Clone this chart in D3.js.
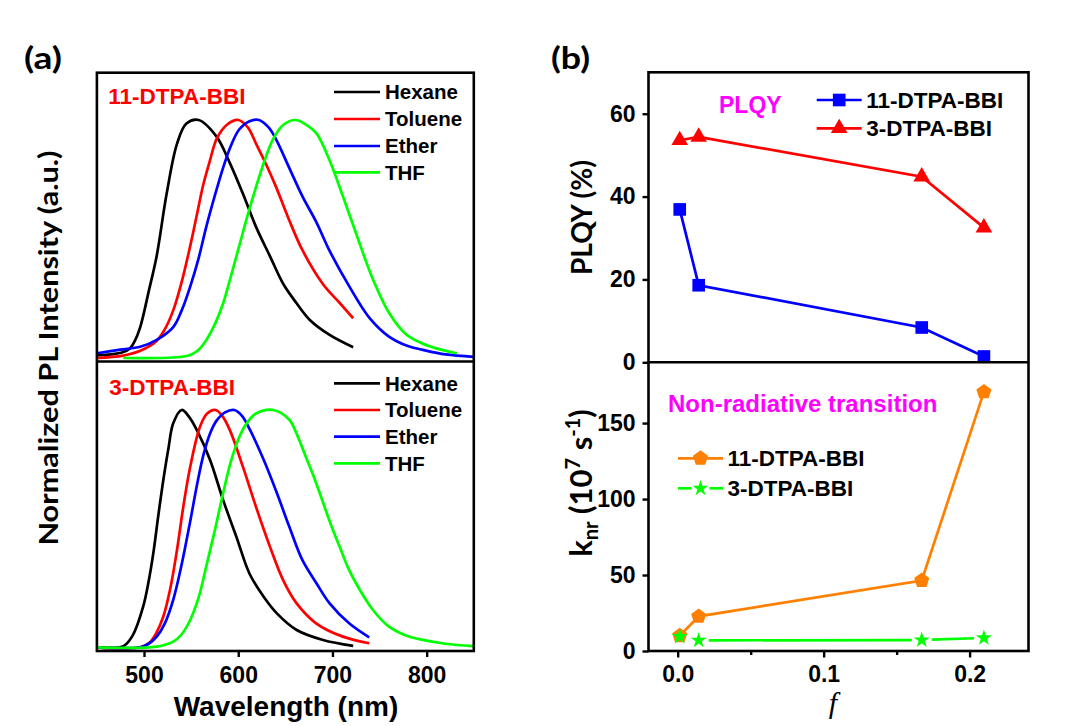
<!DOCTYPE html>
<html><head><meta charset="utf-8">
<script src="https://cdn.jsdelivr.net/npm/d3@7"></script>
<style>body{margin:0;background:#fff}svg{display:block}</style>
</head><body>
<svg id="c" width="1080" height="726"></svg>
<script>
// ---------- DATA: panel (a) top, 11-DTPA-BBI ----------
const solvents = ["Hexane","Toluene","Ether","THF"];
const solventColors = ["#000000","#ff0000","#0000ff","#00ff00"];

const top_hexane_wl = [450,465,478,485,490,496,505,513.5,524,535,545,558,577,591,605,619,634,648,662,676,697,722];
const top_hexane_I  = [0.012,0.015,0.025,0.04,0.07,0.13,0.28,0.43,0.69,0.90,0.985,1.0,0.93,0.82,0.69,0.55,0.425,0.31,0.23,0.16,0.097,0.045];
const top_toluene_wl = [450,478,496,513,522,531,540,549,556,563,570,577,588,600,610,619,630,640,654,668,690,708,722];
const top_toluene_I  = [0.0,0.01,0.03,0.07,0.12,0.2,0.32,0.47,0.6,0.73,0.83,0.92,0.98,1.0,0.97,0.90,0.81,0.72,0.58,0.454,0.31,0.23,0.167];
const top_ether_wl = [450,475,496,513,531,540,549,558,566,575,584,592,601,612,622,632,640,654,668,683,697,718,739,760,780,796,820,850];
const top_ether_I  = [0.02,0.035,0.047,0.075,0.13,0.2,0.3,0.42,0.55,0.68,0.80,0.89,0.96,0.995,1.0,0.97,0.92,0.80,0.68,0.57,0.45,0.30,0.17,0.09,0.05,0.034,0.015,0.005];
const top_thf_wl = [478,531,549,558,566,575,584,592,601,610,619,628,637,648,661,672,683,697,711,725,743,760,778,796,815,832];
const top_thf_I  = [0.0,0.002,0.013,0.035,0.075,0.14,0.23,0.34,0.47,0.6,0.72,0.83,0.92,0.98,1.0,0.98,0.944,0.83,0.68,0.524,0.33,0.19,0.10,0.06,0.035,0.02];

// ---------- DATA: panel (a) bottom, 3-DTPA-BBI ----------
const bot_hexane_wl = [450,478,488,499,505,510,515,520.5,526,531,540,548,556,570,584,598,612,627,641,662,690,722];
const bot_hexane_I  = [0.0,0.005,0.05,0.17,0.28,0.40,0.55,0.705,0.84,0.944,1.0,0.97,0.916,0.79,0.62,0.466,0.31,0.213,0.143,0.073,0.031,0.006];
const bot_toluene_wl = [450,496,506,513,520.5,528,535,542,549,559.5,567,576,583,591,605,619,634,648,662,683,711,739];
const bot_toluene_I  = [0.0,0.0,0.02,0.06,0.13,0.25,0.41,0.6,0.76,0.93,0.985,1.0,0.975,0.916,0.76,0.59,0.42,0.28,0.185,0.10,0.045,0.017];
const bot_ether_wl = [450,496,505,513.5,522,531,540,549,556,563,570,577,586,596,604,612.5,627,641,654,668,683,697,718,739];
const bot_ether_I  = [0.0,0.0,0.015,0.045,0.1,0.2,0.35,0.53,0.68,0.81,0.9,0.955,0.99,1.0,0.975,0.916,0.79,0.65,0.51,0.368,0.27,0.185,0.10,0.042];
const bot_thf_wl = [450,513.5,531,540,549,558,566,575,584,592,601,610,619,637,654,663,672,681,690,699,708,716,725,743,760,778,796,820,850];
const bot_thf_I  = [0.0,0.003,0.024,0.055,0.115,0.21,0.34,0.49,0.65,0.78,0.885,0.95,0.985,1.0,0.96,0.89,0.80,0.71,0.61,0.51,0.42,0.34,0.27,0.157,0.087,0.05,0.031,0.015,0.005];

const wlTicks = [500,600,700,800];

// ---------- DATA: panel (b) ----------
const fValues = [0.0014,0.0144,0.1672,0.2098];
const plqy11 = [36.9,18.6,8.4,1.4];
const plqy3  = [53.6,54.4,44.8,32.5];
const knr11  = [10,22.8,46.4,170.5];
const knr3   = [9.5,7.0,7.2,8.6];
const plqyTicks = [0,20,40,60];
const knrTicks = [0,50,100,150];
const fTicks = [0,0.1,0.2];
const fMinor = [0.05,0.15];

// ---------- DRAW ----------
const svg = d3.select("#c");
const ARIAL = "'Liberation Sans', Arial, sans-serif";
const CAL = "Lato, 'Open Sans', sans-serif";

// Panel (a) geometry
const aL=96.9, aR=473.8, aT=72.7, aM=361.5, aB=651;
const xA = d3.scaleLinear().domain([450,850]).range([aL,aR]);
const yTop = d3.scaleLinear().domain([0,1.2]).range([358,72.4]);
const yBot = d3.scaleLinear().domain([0,1.2]).range([647.3,362.5]);

const topSeries = [[top_hexane_wl,top_hexane_I],[top_toluene_wl,top_toluene_I],[top_ether_wl,top_ether_I],[top_thf_wl,top_thf_I]];
const botSeries = [[bot_hexane_wl,bot_hexane_I],[bot_toluene_wl,bot_toluene_I],[bot_ether_wl,bot_ether_I],[bot_thf_wl,bot_thf_I]];

const gA = svg.append("g");
function drawSpectra(series, yS, clipId, y0, y1){
  gA.append("clipPath").attr("id",clipId).append("rect").attr("x",aL).attr("y",y0).attr("width",aR-aL).attr("height",y1-y0);
  series.forEach((s,i)=>{
    const pts = s[0].map((w,j)=>[w,s[1][j]]);
    const line = d3.line().x(d=>xA(d[0])).y(d=>yS(d[1])).curve(d3.curveCatmullRom.alpha(0.5));
    gA.append("path").attr("d",line(pts)).attr("fill","none")
      .attr("stroke",solventColors[i]).attr("stroke-width",2.7)
      .attr("clip-path",`url(#${clipId})`);
  });
}
drawSpectra(topSeries,yTop,"clipTop",aT,aM);
drawSpectra(botSeries,yBot,"clipBot",aM,aB);

// legends (a)
function legendA(ys){
  solvents.forEach((s,i)=>{
    gA.append("line").attr("x1",334).attr("x2",380).attr("y1",ys[i]).attr("y2",ys[i])
      .attr("stroke",solventColors[i]).attr("stroke-width",2.7);
    gA.append("text").attr("x",385).attr("y",ys[i]).attr("dy","0.36em")
      .attr("font-family",ARIAL).attr("font-weight","bold").attr("font-size",20.5).text(s);
  });
}
legendA([92,119,146,172.3]);
legendA([383.3,410,436.7,463.3]);

gA.append("text").attr("x",108.3).attr("y",104).attr("fill","#ff0000")
  .attr("font-family",ARIAL).attr("font-weight","bold").attr("font-size",22.5).text("11-DTPA-BBI");
gA.append("text").attr("x",109.3).attr("y",394.5).attr("fill","#ff0000")
  .attr("font-family",ARIAL).attr("font-weight","bold").attr("font-size",22.5).text("3-DTPA-BBI");

// frames (a)
gA.append("rect").attr("x",aL).attr("y",aT).attr("width",aR-aL).attr("height",aB-aT)
  .attr("fill","none").attr("stroke","#000").attr("stroke-width",2.6);
gA.append("line").attr("x1",aL).attr("x2",aR).attr("y1",aM).attr("y2",aM).attr("stroke","#000").attr("stroke-width",2.6);

// x axis (a)
const axA = gA.append("g").attr("transform",`translate(0,${aB})`)
  .call(d3.axisBottom(xA).tickValues(wlTicks).tickSize(6).tickPadding(10).tickFormat(d3.format("d")));
axA.select(".domain").remove();
axA.selectAll("line").attr("stroke-width",2.4);
axA.selectAll("text").attr("font-family",ARIAL).attr("font-weight","bold").attr("font-size",23).attr("fill","#000");

gA.append("text").attr("x",286).attr("y",716).attr("text-anchor","middle")
  .attr("font-family",ARIAL).attr("font-weight","bold").attr("font-size",28).text("Wavelength (nm)");
gA.append("text").attr("transform","translate(58,348) rotate(-90)").attr("text-anchor","middle")
  .attr("font-family",CAL).attr("font-weight","bold").attr("font-size",27)
  .attr("textLength",395).attr("lengthAdjust","spacingAndGlyphs").text("Normalized PL Intensity (a.u.)");
gA.append("text").attr("x",24).attr("y",69).attr("font-family",CAL).attr("font-weight","bold").attr("font-size",31)
  .attr("textLength",38).attr("lengthAdjust","spacingAndGlyphs").text("(a)");

// ---------- Panel (b) ----------
const bL=648.5, bR=1028.5, bT=72.3, bM=362.3, bB=651;
const xB = d3.scaleLinear().domain([-0.02,0.24]).range([bL,1028]);
const yP = d3.scaleLinear().domain([0,70]).range([bM,bT]);
const yK = d3.scaleLinear().domain([0,190]).range([bB,bM]);
const gB = svg.append("g");

const pentagon = {draw(ctx,size){const r=Math.sqrt(size/2.3776);for(let k=0;k<5;k++){const a=-Math.PI/2+k*2*Math.PI/5;const x=r*Math.cos(a),y=r*Math.sin(a);k?ctx.lineTo(x,y):ctx.moveTo(x,y);}ctx.closePath();}};

const ORANGE="#ff8000";
function series(vals, yS, color, symType, symSize, gap){
  const pts = fValues.map((f,i)=>[xB(f), yS(vals[i])]);
  if(!gap){
    gB.append("path").attr("d",d3.line()(pts)).attr("fill","none").attr("stroke",color).attr("stroke-width",2.7);
  } else {
    for(let i=0;i<pts.length-1;i++){
      const [x1,y1]=pts[i],[x2,y2]=pts[i+1];
      const L=Math.hypot(x2-x1,y2-y1); if(L<2*gap) continue;
      const ux=(x2-x1)/L, uy=(y2-y1)/L;
      gB.append("line").attr("x1",x1+ux*gap).attr("y1",y1+uy*gap).attr("x2",x2-ux*gap).attr("y2",y2-uy*gap)
        .attr("stroke",color).attr("stroke-width",2.7);
    }
  }
  pts.forEach(p=>gB.append("path").attr("transform",`translate(${p[0]},${p[1]})`)
    .attr("d",d3.symbol().type(symType).size(symSize)()).attr("fill",color));
}
series(plqy11,yP,"#0000ff",d3.symbolSquare,160,0);
series(plqy3,yP,"#ff0000",d3.symbolTriangle,120,0);
series(knr11,yK,ORANGE,pentagon,150,0);
series(knr3,yK,"#00ff00",d3.symbolStar,80,10);

// frames (b)
gB.append("rect").attr("x",bL).attr("y",bT).attr("width",bR-bL).attr("height",bB-bT)
  .attr("fill","none").attr("stroke","#000").attr("stroke-width",2.6);
gB.append("line").attr("x1",bL).attr("x2",bR).attr("y1",bM).attr("y2",bM).attr("stroke","#000").attr("stroke-width",2.6);

function styleAxis(g){
  g.select(".domain").remove();
  g.selectAll("line").attr("stroke-width",2.4);
  g.selectAll("text").attr("font-family",ARIAL).attr("font-weight","bold").attr("font-size",23).attr("fill","#000");
}
styleAxis(gB.append("g").attr("transform",`translate(${bL},0)`)
  .call(d3.axisLeft(yP).tickValues(plqyTicks).tickSize(6).tickPadding(7)));
styleAxis(gB.append("g").attr("transform",`translate(${bL},0)`)
  .call(d3.axisLeft(yK).tickValues(knrTicks).tickSize(6).tickPadding(7)));
styleAxis(gB.append("g").attr("transform",`translate(0,${bB})`)
  .call(d3.axisBottom(xB).tickValues(fTicks).tickSize(6.5).tickPadding(8).tickFormat(d3.format(".1f"))));
styleAxis(gB.append("g").attr("transform",`translate(0,${bB})`)
  .call(d3.axisBottom(xB).tickValues(fMinor).tickSize(4).tickFormat("")));

// legends (b)
function legendB(x1,x2,y,color,symType,symSize,label,gap){
  const xm=(x1+x2)/2;
  if(gap){
    gB.append("line").attr("x1",x1).attr("x2",xm-gap).attr("y1",y).attr("y2",y).attr("stroke",color).attr("stroke-width",2.7);
    gB.append("line").attr("x1",xm+gap).attr("x2",x2).attr("y1",y).attr("y2",y).attr("stroke",color).attr("stroke-width",2.7);
  } else {
    gB.append("line").attr("x1",x1).attr("x2",x2).attr("y1",y).attr("y2",y).attr("stroke",color).attr("stroke-width",2.7);
  }
  gB.append("path").attr("transform",`translate(${xm},${y})`).attr("d",d3.symbol().type(symType).size(symSize)()).attr("fill",color);
  gB.append("text").attr("x",x2+4.5).attr("y",y).attr("dy","0.36em")
    .attr("font-family",ARIAL).attr("font-weight","bold").attr("font-size",22.5).text(label);
}
legendB(816.7,861.7,100,"#0000ff",d3.symbolSquare,160,"11-DTPA-BBI",0);
legendB(816.7,861.7,128.3,"#ff0000",d3.symbolTriangle,120,"3-DTPA-BBI",0);
legendB(678,723,458.3,ORANGE,pentagon,150,"11-DTPA-BBI",0);
legendB(678,723,488.3,"#00ff00",d3.symbolStar,80,"3-DTPA-BBI",9);

gB.append("text").attr("x",719).attr("y",113).attr("fill","#ff00ff")
  .attr("font-family",ARIAL).attr("font-weight","bold").attr("font-size",23).text("PLQY");
gB.append("text").attr("x",668).attr("y",411.7).attr("fill","#ff00ff")
  .attr("font-family",ARIAL).attr("font-weight","bold").attr("font-size",24).text("Non-radiative transition");

gB.append("text").attr("transform","translate(592,217.5) rotate(-90)").attr("text-anchor","middle")
  .attr("font-family",CAL).attr("font-weight","bold").attr("font-size",28)
  .attr("textLength",115).attr("lengthAdjust","spacingAndGlyphs").text("PLQY (%)");

const kt = gB.append("text").attr("transform","translate(592,483) rotate(-90)").attr("text-anchor","middle")
  .attr("font-family",CAL).attr("font-weight","bold").attr("font-size",31);
kt.append("tspan").text("k");
kt.append("tspan").attr("font-size",20).attr("dy",6).text("nr");
kt.append("tspan").attr("dy",-6).text(" (10");
kt.append("tspan").attr("font-size",20).attr("dy",-12).text("7");
kt.append("tspan").attr("dy",12).text(" s");
kt.append("tspan").attr("font-size",20).attr("dy",-12).text("-1");
kt.append("tspan").attr("dy",12).text(")");

gB.append("text").attr("x",833).attr("y",713).attr("text-anchor","middle")
  .attr("font-family","'Liberation Serif', 'Times New Roman', serif").attr("font-style","italic").attr("font-size",30).text("f");
gB.append("text").attr("x",551).attr("y",69).attr("font-family",CAL).attr("font-weight","bold").attr("font-size",31)
  .attr("textLength",39).attr("lengthAdjust","spacingAndGlyphs").text("(b)");
</script>
</body></html>
